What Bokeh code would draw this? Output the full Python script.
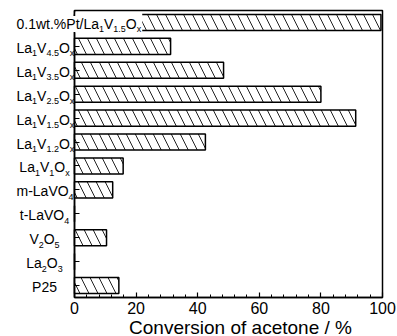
import re
from bokeh.plotting import figure
from bokeh.models import Range1d, FixedTicker, Label, ColumnDataSource
from bokeh.embed import file_html
from bokeh.resources import INLINE

# ---- data (top to bottom) ----
categories = ["0.1wt.%Pt/La_{1}V_{1.5}O_{x}", "La_{1}V_{4.5}O_{x}", "La_{1}V_{3.5}O_{x}",
              "La_{1}V_{2.5}O_{x}", "La_{1}V_{1.5}O_{x}", "La_{1}V_{1.2}O_{x}",
              "La_{1}V_{1}O_{x}", "m-LaVO_{4}", "t-LaVO_{4}", "V_{2}O_{5}",
              "La_{2}O_{3}", "P25"]
conversion = [99.5, 31.2, 48.4, 80.0, 91.3, 42.5, 15.8, 12.4, 0.0, 10.4, 0.0, 14.4]
x_ticks = [0, 20, 40, 60, 80, 100]
x_bounds = (0, 100)
x_label = "Conversion of acetone / %"

FONT = "Liberation Sans"
MAIN = 14
SUB = 9

# Arial / Liberation Sans advance widths (per 1000 em)
CW = {c: 556 for c in "0123456789"}
CW.update({".": 278, "%": 889, "/": 278, "-": 333, "w": 722, "t": 278, "P": 667,
           "L": 556, "a": 556, "V": 667, "O": 778, "x": 500, "m": 833})


def parts_of(s):
    out = []
    for m in re.finditer(r"_\{([^}]*)\}|([^_]+)", s):
        if m.group(1) is not None:
            out.append((m.group(1), True))
        else:
            out.append((m.group(2), False))
    return out


def width(t, size):
    return sum(CW.get(c, 556) for c in t) * size / 1000.0


n = len(categories)
ypos = [n - 1 - i for i in range(n)]

# ---- layout (pixels) ----
W, H = 397, 336
LEFT_PX, RIGHT_PX = 74, 15         # label area left of the value axis / margin at right
TOP_PX, BOTTOM_PX = 10, 39         # margin above the box / room for tick labels + title
px_per_unit = (W - LEFT_PX - RIGHT_PX) / (x_bounds[1] - x_bounds[0])
px_per_row = (H - TOP_PX - BOTTOM_PX) / n
y_lo, y_hi = -0.5, n - 0.5

p = figure(width=W, height=H, output_backend="svg", toolbar_location=None,
           x_range=Range1d(x_bounds[0] - LEFT_PX / px_per_unit, x_bounds[1] + RIGHT_PX / px_per_unit),
           y_range=Range1d(y_lo - BOTTOM_PX / px_per_row, y_hi + TOP_PX / px_per_row),
           min_border_left=0, min_border_right=0, min_border_top=0, min_border_bottom=0)
p.grid.visible = False
p.outline_line_color = None
p.background_fill_color = "white"
p.border_fill_color = "white"

# plot box
p.quad(left=[x_bounds[0]], right=[x_bounds[1]], bottom=[y_lo], top=[y_hi],
       fill_color="white", fill_alpha=0, line_color="black", line_width=1.5)

src = ColumnDataSource(dict(y=ypos, v=conversion))
p.hbar(y="y", left=0, right="v", height=0.67, source=src, fill_color="white",
       line_color="black", line_width=1.5, hatch_pattern="\\", hatch_scale=18,
       hatch_weight=1, hatch_color="#222222")

# x axis along the bottom of the box
xa = p.xaxis[0]
xa.fixed_location = y_lo
xa.bounds = x_bounds
xa.ticker = FixedTicker(ticks=x_ticks, minor_ticks=list(range(0, 101, 4)))
xa.major_tick_in = 5
xa.major_tick_out = 0
xa.minor_tick_in = 3
xa.minor_tick_out = 0
xa.axis_line_width = 1.5
xa.major_tick_line_width = 1.2
xa.minor_tick_line_width = 1
xa.major_label_text_font = FONT
xa.major_label_text_font_size = "16px"
xa.major_label_text_color = "black"
xa.major_label_standoff = 4

# y axis at value 0 (tick marks only; category names drawn as labels)
ya = p.yaxis[0]
ya.fixed_location = 0
ya.bounds = (y_lo, y_hi)
ya.ticker = FixedTicker(ticks=ypos, minor_ticks=[])
ya.major_tick_in = 5
ya.major_tick_out = 0
ya.axis_line_width = 1.5
ya.major_tick_line_width = 1.2
ya.major_label_text_color = None
ya.major_label_standoff = 0

# axis title
p.add_layout(Label(x=sum(x_bounds) / 2, y=y_lo, x_offset=12, y_offset=-30, text=x_label,
                   text_font=FONT, text_font_size="19px", text_color="black",
                   text_align="center", text_baseline="alphabetic"))

for cat, y in zip(categories, ypos):
    parts = parts_of(cat)
    total = sum(width(t, SUB if s else MAIN) for t, s in parts)
    start = max(-30 - total / 2.0, -58)
    wide = start + total > 0
    if wide:
        end_px = start + total + 1
        p.hbar(y=[y], left=0, right=[end_px / px_per_unit], height=0.85,
               fill_color="white", line_color=None)
    cx = start
    for t, s in parts:
        size = SUB if s else MAIN
        lab = Label(x=0, y=y, x_offset=cx, y_offset=(-7 if s else -1.5), text=t,
                    text_font=FONT, text_font_size=f"{size}px", text_color="black",
                    text_align="left", text_baseline="alphabetic")
        if wide:
            lab.background_fill_color = "white"
        p.add_layout(lab)
        cx += width(t, size)

open("out.html", "w").write(file_html(p, INLINE))
